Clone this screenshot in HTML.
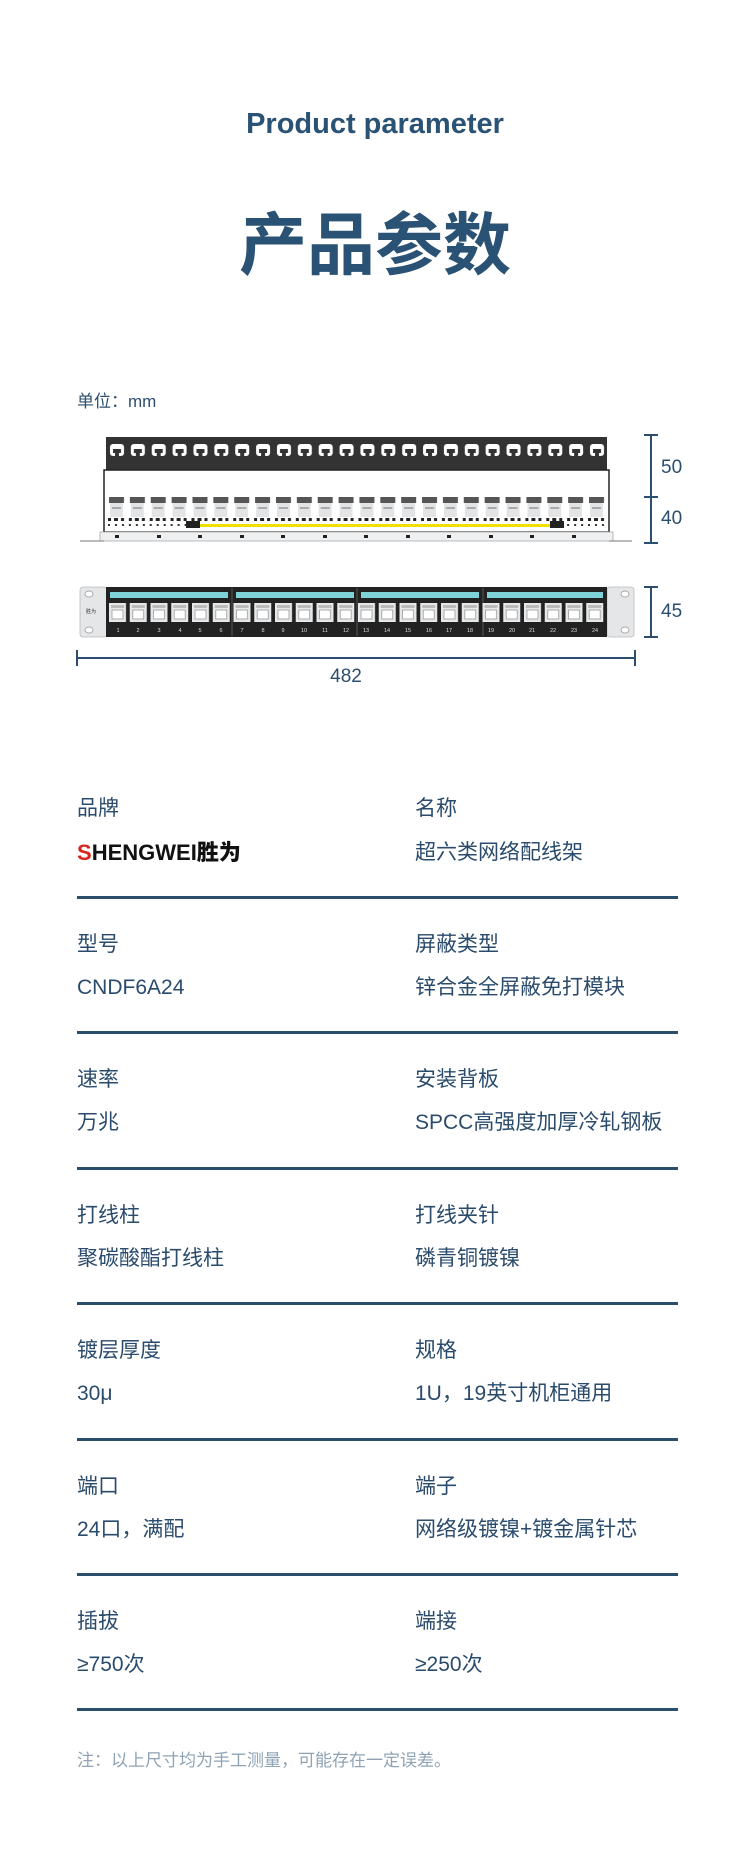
<!DOCTYPE html>
<html><head><meta charset="utf-8">
<style>
html,body{margin:0;padding:0;background:#fff;}
body{width:750px;height:1859px;position:relative;overflow:hidden;font-family:"Liberation Sans","Noto Sans CJK SC",sans-serif;color:#2a4b6c;}
.a{position:absolute;white-space:nowrap;}
.lbl{font-size:21px;line-height:24px;}
.hr{position:absolute;left:77px;width:601px;height:3px;background:#2b4d6e;}
</style></head><body>
<div class="a" style="left:0;width:750px;text-align:center;top:108px;font-size:29px;font-weight:bold;color:#2a5274;">Product parameter</div>
<div class="a" style="left:0;width:750px;text-align:center;top:200px;font-size:68px;line-height:80px;font-weight:bold;color:#2a5274;font-family:'Noto Sans CJK SC',sans-serif;">产品参数</div>
<div class="a" style="left:77px;top:387px;font-size:17px;color:#2c4f6e;">单位：mm</div>

<svg class="a" style="left:0;top:0" width="750" height="700" viewBox="0 0 750 700">
<defs>
<pattern id="hook" x="106" y="437" width="20.87" height="32" patternUnits="userSpaceOnUse">
<rect x="4" y="7" width="14" height="12" rx="3" fill="#fff"/>
<rect x="7" y="12" width="8" height="4" fill="#333"/>
<rect x="9" y="15" width="4" height="4" fill="#333"/>
</pattern>
<pattern id="bj" x="106" y="497" width="20.87" height="32" patternUnits="userSpaceOnUse">
<rect x="3" y="0" width="15" height="6" fill="#555"/>
<rect x="4" y="6" width="13" height="14" fill="#e2e4e6"/>
<rect x="6" y="10" width="9" height="2" fill="#aaa"/>
<rect x="2" y="21" width="3" height="3" fill="#222"/><rect x="8" y="21" width="4" height="3" fill="#222"/><rect x="15" y="21" width="3" height="3" fill="#222"/>
<rect x="2" y="27" width="2" height="2" fill="#333"/><rect x="9" y="27" width="2" height="2" fill="#333"/><rect x="16" y="27" width="2" height="2" fill="#333"/>
</pattern>
<pattern id="fj" x="109" y="603" width="20.75" height="20" patternUnits="userSpaceOnUse">
<rect x="0" y="0" width="17" height="19" fill="#e6e8ea"/>
<rect x="2" y="2" width="13" height="3" fill="#bbb"/>
<rect x="3" y="7" width="11" height="9" fill="#fff" stroke="#999" stroke-width="0.8"/>
</pattern>
</defs>
<!-- back panel -->
<rect x="106" y="437" width="501" height="33" fill="#333"/>
<rect x="106" y="437" width="501" height="33" fill="url(#hook)"/>
<rect x="104" y="470" width="505" height="62" fill="#fff" stroke="#222" stroke-width="1.5"/>
<rect x="106" y="497" width="501" height="32" fill="url(#bj)"/>
<rect x="200" y="524" width="350" height="3" fill="#f0e000"/>
<rect x="186" y="521" width="14" height="7" fill="#222"/><rect x="550" y="521" width="14" height="7" fill="#222"/>
<rect x="100" y="532" width="513" height="9" fill="#eef0f2" stroke="#aaa" stroke-width="0.8"/>
<g fill="#222"><rect x="115" y="535" width="4" height="3"/><rect x="157" y="535" width="4" height="3"/><rect x="198" y="535" width="4" height="3"/><rect x="240" y="535" width="4" height="3"/><rect x="281" y="535" width="4" height="3"/><rect x="323" y="535" width="4" height="3"/><rect x="364" y="535" width="4" height="3"/><rect x="406" y="535" width="4" height="3"/><rect x="447" y="535" width="4" height="3"/><rect x="489" y="535" width="4" height="3"/><rect x="530" y="535" width="4" height="3"/><rect x="572" y="535" width="4" height="3"/></g>
<line x1="80" y1="541" x2="104" y2="541" stroke="#777" stroke-width="1"/>
<line x1="609" y1="541" x2="632" y2="541" stroke="#777" stroke-width="1"/>
<!-- right dims -->
<g stroke="#2b4d6e" stroke-width="2">
<line x1="651" y1="435" x2="651" y2="543"/><line x1="644" y1="435" x2="658" y2="435"/><line x1="644" y1="497" x2="658" y2="497"/><line x1="644" y1="543" x2="658" y2="543"/>
<line x1="651" y1="587" x2="651" y2="637"/><line x1="644" y1="587" x2="658" y2="587"/><line x1="644" y1="637" x2="658" y2="637"/>
<line x1="77" y1="658" x2="635" y2="658"/><line x1="77" y1="650" x2="77" y2="666"/><line x1="635" y1="650" x2="635" y2="666"/>
</g>
<g fill="#2b4d6e" font-family="Liberation Sans, sans-serif" font-size="19">
<text x="661" y="473">50</text><text x="661" y="524">40</text><text x="661" y="617">45</text>
<text x="346" y="682" text-anchor="middle">482</text>
</g>
<!-- front panel -->
<rect x="80" y="587" width="27" height="50" rx="3" fill="#e4e6e8" stroke="#bbb" stroke-width="0.8"/>
<rect x="607" y="587" width="27" height="50" rx="3" fill="#e4e6e8" stroke="#bbb" stroke-width="0.8"/>
<ellipse cx="89" cy="594" rx="4" ry="3" fill="#fff" stroke="#aaa"/><ellipse cx="89" cy="630" rx="4" ry="3" fill="#fff" stroke="#aaa"/>
<ellipse cx="625" cy="594" rx="4" ry="3" fill="#fff" stroke="#aaa"/><ellipse cx="625" cy="630" rx="4" ry="3" fill="#fff" stroke="#aaa"/>
<text x="86" y="613" font-size="5" fill="#333">胜为</text>
<rect x="106" y="587" width="501" height="50" fill="#222"/>
<g fill="#7fd3d8"><rect x="110" y="592" width="118" height="6"/><rect x="236" y="592" width="118" height="6"/><rect x="361" y="592" width="118" height="6"/><rect x="487" y="592" width="116" height="6"/></g>
<g stroke="#555" stroke-width="1"><line x1="232" y1="588" x2="232" y2="636"/><line x1="357" y1="588" x2="357" y2="636"/><line x1="483" y1="588" x2="483" y2="636"/></g>
<rect x="109" y="603" width="498" height="20" fill="url(#fj)"/>
<g fill="#ddd" font-size="5.5" font-family="Liberation Sans, sans-serif" text-anchor="middle">
<text x="118" y="632">1</text><text x="138" y="632">2</text><text x="159" y="632">3</text><text x="180" y="632">4</text><text x="200" y="632">5</text><text x="221" y="632">6</text><text x="242" y="632">7</text><text x="263" y="632">8</text><text x="283" y="632">9</text><text x="304" y="632">10</text><text x="325" y="632">11</text><text x="346" y="632">12</text><text x="366" y="632">13</text><text x="387" y="632">14</text><text x="408" y="632">15</text><text x="429" y="632">16</text><text x="449" y="632">17</text><text x="470" y="632">18</text><text x="491" y="632">19</text><text x="512" y="632">20</text><text x="532" y="632">21</text><text x="553" y="632">22</text><text x="574" y="632">23</text><text x="595" y="632">24</text>
</g>
</svg>

<!-- table -->
<div class="a lbl" style="left:77px;top:797px;">品牌</div>
<div class="a lbl" style="left:415px;top:797px;">名称</div>
<div class="a" style="left:77px;top:838px;font-size:22px;font-weight:bold;line-height:26px;color:#111;letter-spacing:0px;"><span style="color:#d9261c;">S</span>HENGWEI<span style="font-family:'Noto Sans CJK SC',sans-serif;font-weight:900;">胜为</span></div>
<div class="a lbl" style="left:415px;top:841px;">超六类网络配线架</div>
<div class="hr" style="top:896px;"></div>

<div class="a lbl" style="left:77px;top:933px;">型号</div>
<div class="a lbl" style="left:415px;top:933px;">屏蔽类型</div>
<div class="a lbl" style="left:77px;top:976px;">CNDF6A24</div>
<div class="a lbl" style="left:415px;top:976px;">锌合金全屏蔽免打模块</div>
<div class="hr" style="top:1031px;"></div>

<div class="a lbl" style="left:77px;top:1068px;">速率</div>
<div class="a lbl" style="left:415px;top:1068px;">安装背板</div>
<div class="a lbl" style="left:77px;top:1111px;">万兆</div>
<div class="a lbl" style="left:415px;top:1111px;">SPCC高强度加厚冷轧钢板</div>
<div class="hr" style="top:1167px;"></div>

<div class="a lbl" style="left:77px;top:1204px;">打线柱</div>
<div class="a lbl" style="left:415px;top:1204px;">打线夹针</div>
<div class="a lbl" style="left:77px;top:1247px;">聚碳酸酯打线柱</div>
<div class="a lbl" style="left:415px;top:1247px;">磷青铜镀镍</div>
<div class="hr" style="top:1302px;"></div>

<div class="a lbl" style="left:77px;top:1339px;">镀层厚度</div>
<div class="a lbl" style="left:415px;top:1339px;">规格</div>
<div class="a lbl" style="left:77px;top:1382px;">30μ</div>
<div class="a lbl" style="left:415px;top:1382px;">1U，19英寸机柜通用</div>
<div class="hr" style="top:1438px;"></div>

<div class="a lbl" style="left:77px;top:1475px;">端口</div>
<div class="a lbl" style="left:415px;top:1475px;">端子</div>
<div class="a lbl" style="left:77px;top:1518px;">24口，满配</div>
<div class="a lbl" style="left:415px;top:1518px;">网络级镀镍+镀金属针芯</div>
<div class="hr" style="top:1573px;"></div>

<div class="a lbl" style="left:77px;top:1610px;">插拔</div>
<div class="a lbl" style="left:415px;top:1610px;">端接</div>
<div class="a lbl" style="left:77px;top:1653px;">≥750次</div>
<div class="a lbl" style="left:415px;top:1653px;">≥250次</div>
<div class="hr" style="top:1708px;"></div>

<div class="a" style="left:77px;top:1746px;font-size:17px;color:#8fa3b5;">注：以上尺寸均为手工测量，可能存在一定误差。</div>
</body></html>
